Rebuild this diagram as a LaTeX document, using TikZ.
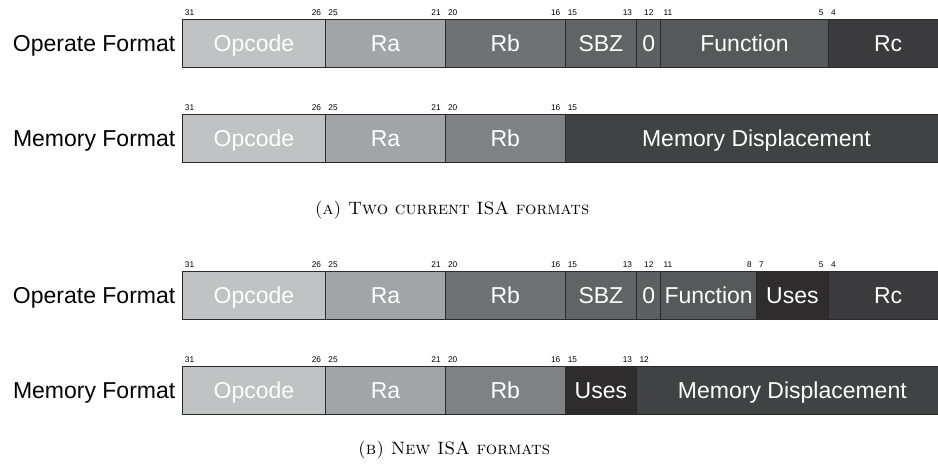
\documentclass[tikz,border=0pt]{standalone}
\usepackage{fontspec}
\newfontfamily\arial{Liberation Sans}
\usepackage{tikz}

\definecolor{opcgray}{HTML}{C1C2C4}
\definecolor{ragray}{HTML}{A3A4A7}
\definecolor{rbop}{HTML}{707175}
\definecolor{rbmem}{HTML}{808184}
\definecolor{sbzgray}{HTML}{626365}
\definecolor{zerogray}{HTML}{5E5F61}
\definecolor{fungray}{HTML}{57585A}
\definecolor{rcgray}{HTML}{3B3B3D}
\definecolor{dispgray}{HTML}{414244}
\definecolor{usesgray}{HTML}{2E2C2D}
\definecolor{edgegray}{HTML}{2A2A2A}

\def\barx{181.7}
\def\bitw{23.93}

% one field of an instruction word: name, top, high bit, low bit, colour, text
% (bit 0 runs off the right edge, so it gets no number)
\newcommand{\isafield}[6]{%
  \node[fieldbox, fill=#5, minimum width={(#3-#4+1)*\bitw}, anchor=north west]
    (#1) at ({\barx+(31-#3)*\bitw}, #2) {#6};
  \ifnum#3=#4
    \node[bitnum, anchor=base] (#1-hi) at ([yshift=3.4pt]#1.north) {#3};
  \else
    \node[bitnum, anchor=base west] (#1-hi) at ([xshift=3pt,yshift=3.4pt]#1.north west) {#3};
    \ifnum#4>0
      \node[bitnum, anchor=base east] (#1-lo) at ([xshift=-5pt,yshift=3.4pt]#1.north east) {#4};
    \fi
  \fi
}

\tikzset{
  fieldbox/.style={draw=edgegray, line width=0.9pt, inner sep=0pt, text=white,
    minimum height=48pt, text height=16.5pt, text depth=0pt,
    font=\arial\fontsize{23}{23}\selectfont},
  bitnum/.style={inner sep=0pt, font=\arial\fontsize{8.3}{9}\selectfont},
  fmtlabel/.style={anchor=east, inner sep=0pt, text height=16.5pt, text depth=0pt,
    font=\arial\fontsize{23}{23}\selectfont},
  subcap/.style={anchor=base, inner sep=0pt, font=\fontsize{17.9}{21}\selectfont}
}

\begin{document}
\begin{tikzpicture}[x=1pt,y=-1pt]
\useasboundingbox (0,0) rectangle (938,470);
\clip (0,0) rectangle (938,470);

% (a) current formats
\node[fmtlabel] (opA) at (175.5,43.3) {Operate Format};
\isafield{opA-opcode}{19.3}{31}{26}{opcgray}{Opcode}
\isafield{opA-ra}{19.3}{25}{21}{ragray}{Ra}
\isafield{opA-rb}{19.3}{20}{16}{rbop}{Rb}
\isafield{opA-sbz}{19.3}{15}{13}{sbzgray}{SBZ}
\isafield{opA-zero}{19.3}{12}{12}{zerogray}{0}
\isafield{opA-fn}{19.3}{11}{5}{fungray}{Function}
\isafield{opA-rc}{19.3}{4}{0}{rcgray}{Rc}

\node[fmtlabel] (memA) at (175.5,138.3) {Memory Format};
\isafield{memA-opcode}{114.3}{31}{26}{opcgray}{Opcode}
\isafield{memA-ra}{114.3}{25}{21}{ragray}{Ra}
\isafield{memA-rb}{114.3}{20}{16}{rbmem}{Rb}
\isafield{memA-disp}{114.3}{15}{0}{dispgray}{Memory Displacement}

\node[subcap] (capA) at (452,214.5) {\textsc{(a) Two current ISA formats}};

% (b) new formats
\node[fmtlabel] (opB) at (175.5,295) {Operate Format};
\isafield{opB-opcode}{271}{31}{26}{opcgray}{Opcode}
\isafield{opB-ra}{271}{25}{21}{ragray}{Ra}
\isafield{opB-rb}{271}{20}{16}{rbop}{Rb}
\isafield{opB-sbz}{271}{15}{13}{sbzgray}{SBZ}
\isafield{opB-zero}{271}{12}{12}{zerogray}{0}
\isafield{opB-fn}{271}{11}{8}{fungray}{Function}
\isafield{opB-uses}{271}{7}{5}{usesgray}{Uses}
\isafield{opB-rc}{271}{4}{0}{rcgray}{Rc}

\node[fmtlabel] (memB) at (175.5,390.3) {Memory Format};
\isafield{memB-opcode}{366.3}{31}{26}{opcgray}{Opcode}
\isafield{memB-ra}{366.3}{25}{21}{ragray}{Ra}
\isafield{memB-rb}{366.3}{20}{16}{rbmem}{Rb}
\isafield{memB-uses}{366.3}{15}{13}{usesgray}{Uses}
\isafield{memB-disp}{366.3}{12}{0}{dispgray}{Memory Displacement}

\node[subcap] (capB) at (454,454) {\textsc{(b) New ISA formats}};
\end{tikzpicture}
\end{document}
